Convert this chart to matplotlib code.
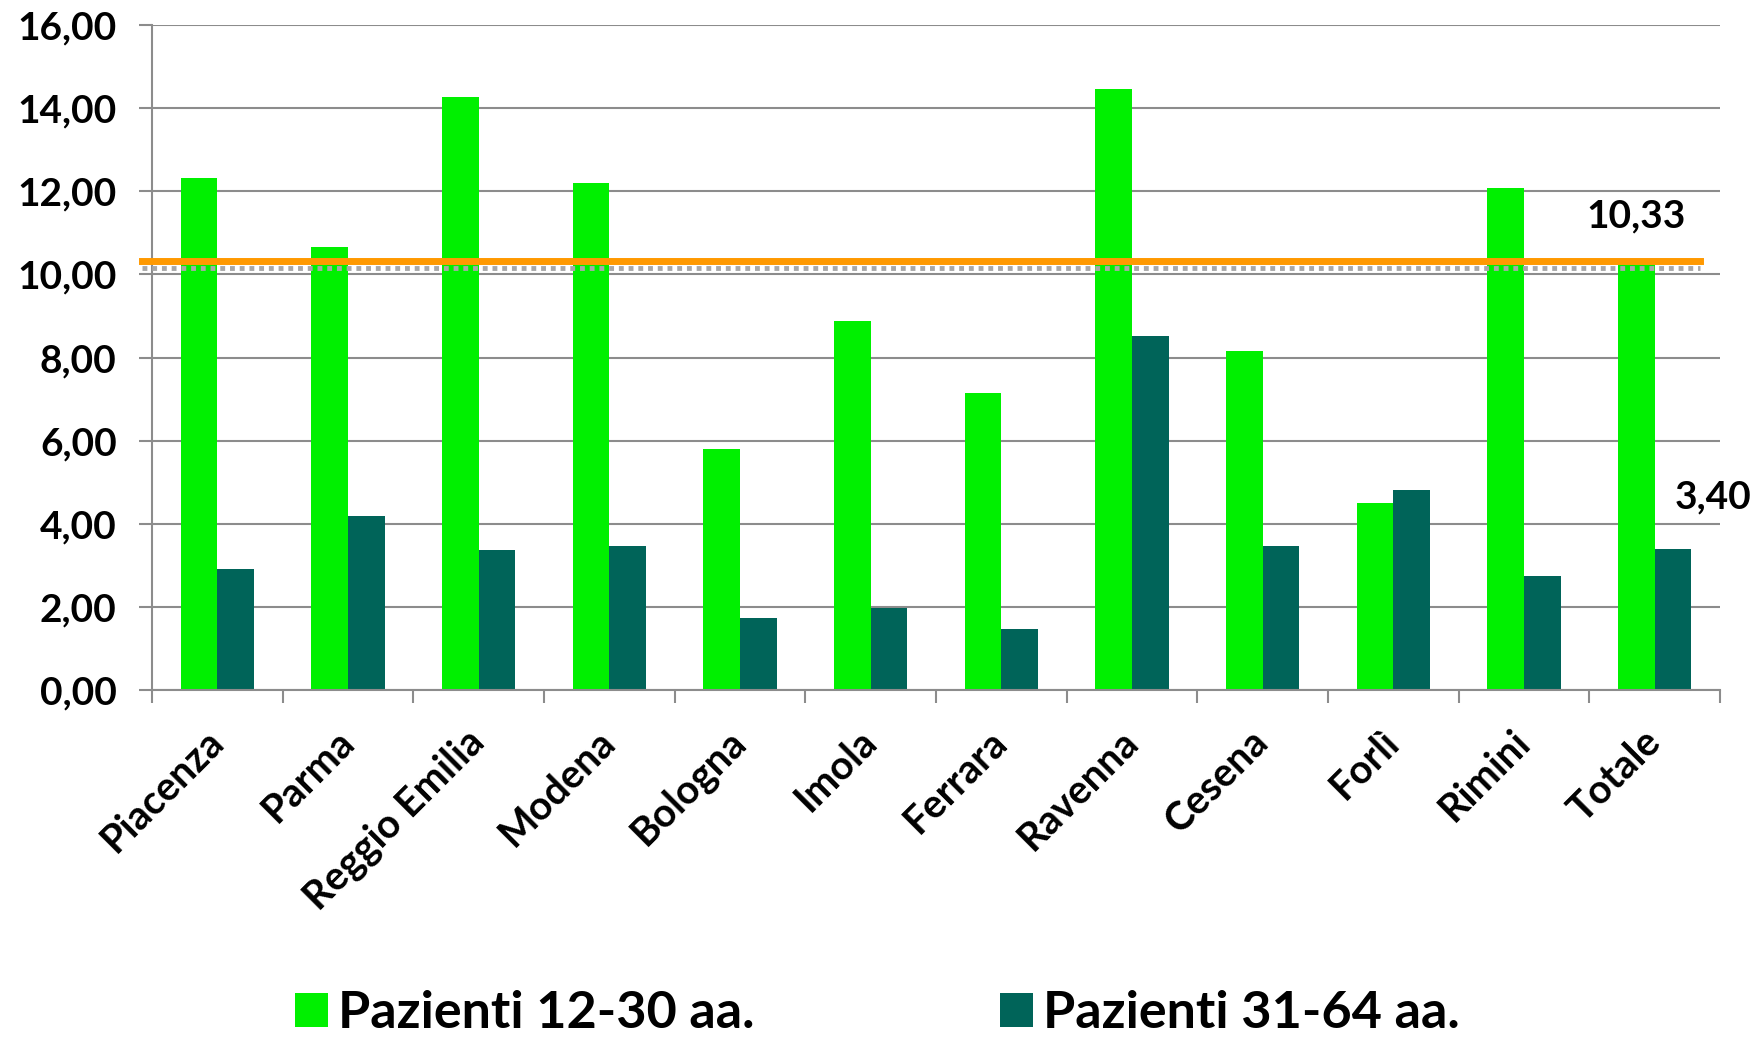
import numpy as np
import matplotlib
matplotlib.use("Agg")
import matplotlib.pyplot as plt
from matplotlib.transforms import offset_copy

# Dati per azienda sanitaria
aziende = ["Piacenza", "Parma", "Reggio Emilia", "Modena", "Bologna", "Imola",
           "Ferrara", "Ravenna", "Cesena", "Forlì", "Rimini", "Totale"]
pazienti_12_30 = [12.31, 10.67, 14.27, 12.21, 5.79, 8.87,
                  7.16, 14.45, 8.15, 4.51, 12.07, 10.33]
pazienti_31_64 = [2.92, 4.19, 3.36, 3.48, 1.73, 1.98,
                  1.48, 8.51, 3.48, 4.81, 2.75, 3.40]
etichette_y = [0, 2, 4, 6, 8, 10, 12, 14, 16]

col_giovani = "#00f000"
col_adulti = "#006459"
col_griglia = "#8c8c8c"
col_media = "#ff9900"

plt.rcParams["font.family"] = ["Lato", "DejaVu Sans"]

fig = plt.figure(figsize=(17.62, 10.41), dpi=100)
ax = fig.add_axes([0.0863, 0.337, 0.8899, 0.639])

x = np.arange(len(aziende))
w = 0.28
bar1 = ax.bar(x - w / 2, pazienti_12_30, width=w, color=col_giovani,
              label="Pazienti 12-30 aa.", zorder=2)
bar2 = ax.bar(x + w / 2, pazienti_31_64, width=w, color=col_adulti,
              label="Pazienti 31-64 aa.", zorder=2)

ax.set_xlim(-0.5, len(aziende) - 0.5)
ax.set_ylim(etichette_y[0], etichette_y[-1])

# asse y con virgola decimale
ax.set_yticks(etichette_y)
ax.set_yticklabels([f"{v:.2f}".replace(".", ",") for v in etichette_y],
                   fontsize=28, fontweight="bold")
ax.yaxis.grid(True, color=col_griglia, linewidth=1.5, zorder=0)
ax.set_axisbelow(True)

# tacche tra le categorie, nomi al centro
ax.set_xticks(np.arange(-0.5, len(aziende), 1))
ax.set_xticklabels([])
ax.set_xticks(x, minor=True)
ax.set_xticklabels(aziende, minor=True, rotation=45, ha="right", va="center",
                   rotation_mode="anchor", fontsize=28.5, fontweight="bold")
ax.tick_params(axis="x", which="minor", length=0, pad=33)
ax.tick_params(axis="x", which="major", length=9.5, width=1.5, color=col_griglia)
ax.tick_params(axis="y", length=9.5, width=1.5, color=col_griglia, pad=16)

for s in ["top", "right"]:
    ax.spines[s].set_visible(False)
for s in ["left", "bottom"]:
    ax.spines[s].set_color(col_griglia)
    ax.spines[s].set_linewidth(1.5)

# linea della media regionale con ombra
media = pazienti_12_30[-1]
ombra = offset_copy(ax.get_yaxis_transform(), fig=fig, x=0, y=-7, units="dots")
ax.plot([-0.0064, 0.987], [media, media], transform=ombra, color="#a8a8a8",
        linewidth=3.5, linestyle=(0, (1, 1)), clip_on=False, zorder=3)
ax.axhline(media, xmin=-0.0064, xmax=0.987, color=col_media, linewidth=5,
           clip_on=False, zorder=4)

# etichette dei valori totali
ax.annotate(f"{pazienti_12_30[-1]:.2f}".replace(".", ","),
            (x[-1] - w / 2, pazienti_12_30[-1]), xytext=(0, 45),
            textcoords="offset pixels", ha="center", va="center",
            fontsize=28, fontweight="bold", zorder=5)
ax.annotate(f"{pazienti_31_64[-1]:.2f}".replace(".", ","),
            (x[-1] + w / 2, pazienti_31_64[-1]), xytext=(40, 52),
            textcoords="offset pixels", ha="center", va="center",
            fontsize=28, fontweight="bold", zorder=5)

fig.legend(handles=[bar1, bar2], loc="center", bbox_to_anchor=(0.498, 0.026),
           ncol=2, frameon=False, prop={"size": 37.5, "weight": "bold"},
           handlelength=0.63, handleheight=0.63, handletextpad=0.2,
           columnspacing=4.7, borderpad=0, borderaxespad=0)

fig.savefig("out.png", dpi=100)
